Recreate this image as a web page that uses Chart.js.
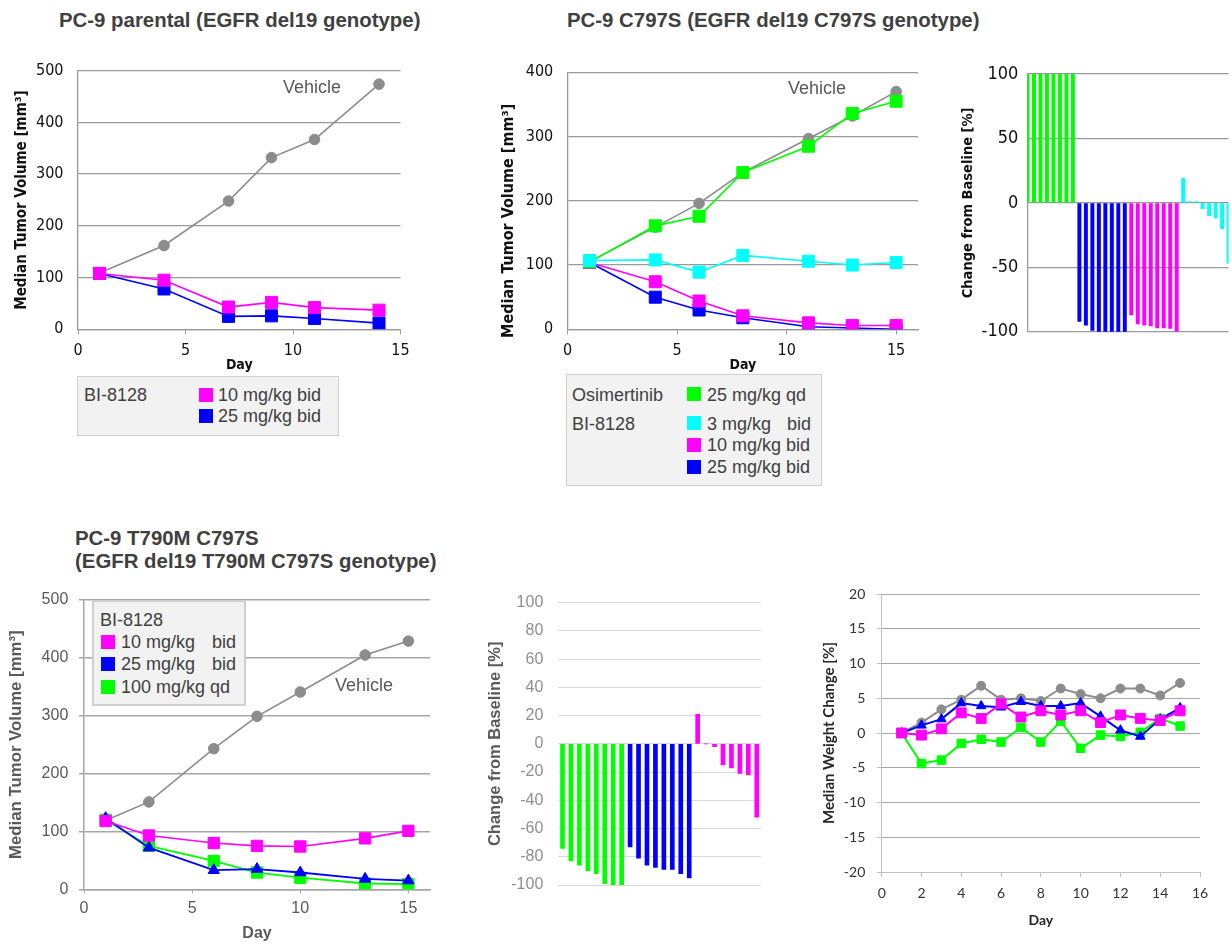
<!DOCTYPE html>
<html>
<head>
<meta charset="utf-8">
<script src="https://cdn.jsdelivr.net/npm/chart.js@4.4.1/dist/chart.umd.min.js"></script>
<style>
  html, body { margin: 0; padding: 0; background: #fff; }
  body { width: 1231px; height: 944px; position: relative; overflow: hidden; font-family: 'Liberation Sans', Arial, sans-serif; }
  .box { position: absolute; }
  .title { position: absolute; font-weight: bold; font-size: 20.4px; line-height: 23px; color: #404040; white-space: nowrap; }
  .legend { position: absolute; background: #f2f2f2; border: 1px solid #d0d0d0; box-sizing: border-box; }
  .txt { position: absolute; font-size: 18px; line-height: 20px; color: #404040; white-space: nowrap; }
  .sw { position: absolute; width: 14px; height: 14px; }
  .veh { position: absolute; font-size: 18px; line-height: 20px; color: #595959; white-space: nowrap; }
</style>
</head>
<body>

<div class="title" style="left:59px;top:9px">PC-9 parental (EGFR del19 genotype)</div>
<div class="title" style="left:567px;top:9px">PC-9 C797S (EGFR del19 C797S genotype)</div>
<div class="title" style="left:75px;top:527px">PC-9 T790M C797S<br>(EGFR del19 T790M C797S genotype)</div>

<div class="box" style="left:0;top:60px;width:410px;height:320px"><canvas id="chartA"></canvas></div>
<div class="box" style="left:490px;top:60px;width:440px;height:320px"><canvas id="chartB"></canvas></div>
<div class="box" style="left:940px;top:60px;width:291px;height:290px"><canvas id="chartC"></canvas></div>
<div class="box" style="left:0;top:590px;width:440px;height:354px"><canvas id="chartD"></canvas></div>
<div class="box" style="left:480px;top:590px;width:300px;height:310px"><canvas id="chartE"></canvas></div>
<div class="box" style="left:810px;top:580px;width:421px;height:355px"><canvas id="chartF"></canvas></div>

<div class="veh" style="left:283px;top:77px">Vehicle</div>
<div class="veh" style="left:788px;top:78px">Vehicle</div>

<!-- legend, top left -->
<div class="legend" style="left:77px;top:376px;width:262px;height:60px"></div>
<div class="txt" style="left:84px;top:385px">BI-8128</div>
<div class="sw" style="left:199px;top:388px;background:#ff00ff"></div>
<div class="txt" style="left:218px;top:385px">10 mg/kg bid</div>
<div class="sw" style="left:199px;top:409px;background:#0000ff"></div>
<div class="txt" style="left:218px;top:406px">25 mg/kg bid</div>

<!-- legend, top middle -->
<div class="legend" style="left:566px;top:374px;width:256px;height:112px"></div>
<div class="txt" style="left:572px;top:385px">Osimertinib</div>
<div class="sw" style="left:687px;top:387px;background:#00ff00"></div>
<div class="txt" style="left:707px;top:385px">25 mg/kg qd</div>
<div class="txt" style="left:572px;top:414px">BI-8128</div>
<div class="sw" style="left:687px;top:416px;background:#00ffff"></div>
<div class="txt" style="left:707px;top:414px">3 mg/kg</div>
<div class="txt" style="left:787px;top:414px">bid</div>
<div class="sw" style="left:687px;top:438px;background:#ff00ff"></div>
<div class="txt" style="left:707px;top:435px">10 mg/kg bid</div>
<div class="sw" style="left:687px;top:460px;background:#0000ff"></div>
<div class="txt" style="left:707px;top:457px">25 mg/kg bid</div>

<!-- legend, bottom left -->
<div class="legend" style="left:92px;top:600px;width:154px;height:106px;border:2px solid #cfcfcf"></div>
<div class="txt" style="left:100px;top:610px">BI-8128</div>
<div class="sw" style="left:101px;top:635px;background:#ff00ff"></div>
<div class="txt" style="left:121px;top:632px">10 mg/kg</div>
<div class="txt" style="left:212px;top:632px">bid</div>
<div class="sw" style="left:101px;top:657px;background:#0000ff"></div>
<div class="txt" style="left:121px;top:654px">25 mg/kg</div>
<div class="txt" style="left:212px;top:654px">bid</div>
<div class="sw" style="left:101px;top:680px;background:#00ff00"></div>
<div class="txt" style="left:121px;top:677px">100 mg/kg qd</div>
<div class="veh" style="left:335px;top:675px">Vehicle</div>

<script>
// PC-9 parental
const daysA = [1, 4, 7, 9, 11, 14];
const vehicleA = [109, 162, 248, 332, 367, 474];
const bi10A = [108, 95, 43, 52, 42, 37];
const bi25A = [108, 78, 25, 26, 21, 12];

// PC-9 C797S
const daysB = [1, 4, 6, 8, 11, 13, 15];
const vehicleB = [105, 159, 196, 244, 297, 332, 370];
const osiB = [105, 161, 176, 244, 285, 336, 355];
const bi3B = [107, 108, 89, 115, 106, 100, 104];
const bi10B = [104, 74, 44, 21, 10, 6, 6];
const bi25B = [104, 50, 30, 18, 4, 2, 0];

// PC-9 C797S waterfall (one bar per animal)
const osiC = [100, 100, 100, 100, 100, 100, 100, 100];
const bi25C = [-92, -95, -99, -100, -100, -100, -100, -100];
const bi10C = [-87, -94, -95, -95.5, -97, -97, -97.5, -100];
const bi3C = [19, 1, 1, -4.6, -10, -11.6, -20, -47];

// PC-9 T790M C797S
const daysD = [1, 3, 6, 8, 10, 13, 15];
const vehicleD = [119, 151, 243, 299, 341, 405, 429];
const bi10D = [118, 93, 80, 75, 74, 88, 101];
const bi25D = [123, 72, 33, 35, 29, 18, 15];
const bi100D = [120, 75, 49, 29, 20, 10, 9];

// PC-9 T790M C797S waterfall
const bi100E = [-74, -83, -86, -90, -92, -99, -100, -100];
const bi25E = [-73, -81, -86, -87.5, -89, -89, -92, -95];
const bi10E = [21, 0, -2, -15, -17, -21, -22, -52];

// body weight
const daysF = [1, 2, 3, 4, 5, 6, 7, 8, 9, 10, 11, 12, 13, 14, 15];
const vehicleF = [0, 1.5, 3.4, 4.8, 6.8, 4.8, 5.0, 4.6, 6.4, 5.6, 5.0, 6.4, 6.4, 5.4, 7.2];
const bi10F = [0, -0.3, 0.6, 2.9, 2.1, 4.2, 2.3, 3.2, 2.6, 3.2, 1.5, 2.6, 2.1, 1.8, 3.2];
const bi25F = [0, 1.1, 2.0, 4.3, 3.9, 3.7, 4.5, 3.9, 3.9, 4.3, 2.4, 0.4, -0.5, 2.0, 3.6];
const bi100F = [0, -4.4, -3.9, -1.5, -0.9, -1.3, 0.8, -1.3, 1.7, -2.2, -0.3, -0.5, 0.1, 2.1, 1.0];

const GRAY = "#8c8c8c";
const GREEN = "#00ff00";
const CYAN = "#00ffff";
const MAGENTA = "#ff00ff";
const BLUE = "#0000ff";

const VERDANA = "'DejaVu Sans Condensed', 'DejaVu Sans', sans-serif";
const ARIAL = "'Liberation Sans', Arial, sans-serif";
const CALIBRI = "Lato, 'Open Sans', sans-serif";

Chart.defaults.animation = false;
Chart.defaults.plugins.legend.display = false;
Chart.defaults.plugins.tooltip.enabled = false;
Chart.defaults.responsive = true;
Chart.defaults.maintainAspectRatio = false;

function series(days, values, color, style, radius, width) {
  return {
    data: days.map((d, i) => ({ x: d, y: values[i] })),
    borderColor: color,
    backgroundColor: color,
    pointBackgroundColor: color,
    pointBorderColor: color,
    pointBorderWidth: 1,
    pointStyle: style,
    pointRadius: radius,
    borderWidth: width,
    fill: false,
    tension: 0,
  };
}

// pin the axis boxes so the plot areas land where the original ones are
function fixY(w) {
  return sc => { sc.width = w; sc.paddingTop = 0; sc.paddingBottom = 0; };
}
function fixX(h) {
  return sc => { sc.height = h; sc.paddingLeft = 0; sc.paddingRight = 0; };
}

// one look per group of panels
function axes(s) {
  return {
    x: {
      type: "linear",
      min: 0,
      max: s.xMax,
      ticks: { stepSize: s.xStep, includeBounds: false, maxRotation: 0, font: { family: s.font, size: s.tickSize }, color: s.tickColor, padding: s.xPad },
      grid: { drawOnChartArea: false, tickLength: s.xTick, tickColor: s.axisColor },
      border: { color: s.axisColor, width: s.lineW },
      title: { display: true, text: "Day", color: s.titleColor, font: { family: s.font, size: s.daySize, weight: "bold" }, padding: { top: 0, bottom: s.dayPad } },
      afterFit: fixX(s.xHeight),
    },
    y: {
      min: s.yMin,
      max: s.yMax,
      ticks: { stepSize: s.yStep, font: { family: s.font, size: s.tickSize }, color: s.tickColor, padding: s.yPad },
      grid: { color: s.gridColor, lineWidth: s.lineW, drawTicks: s.yTick > 0, tickLength: s.yTick, tickColor: s.axisColor },
      border: { color: s.axisColor, width: s.lineW },
      title: { display: true, text: s.yTitle, color: s.titleColor, font: { family: s.font, size: s.yTitleSize, weight: "bold" }, padding: { top: s.yTitlePad, bottom: 0 } },
      afterFit: fixY(s.yWidth),
    },
  };
}

const officeLook = {
  font: VERDANA, tickSize: 16, tickColor: "#111", titleColor: "#111",
  axisColor: "#999", gridColor: "#999", lineW: 1.3,
  xStep: 5, xTick: 5, xPad: 6.5, xHeight: 50.7, daySize: 14, dayPad: 6,
  yMin: 0, yStep: 100, yTick: 0, yPad: 14.5, yTitleSize: 15, yTitle: "Median Tumor Volume [mm³]",
};

new Chart(document.getElementById("chartA"), {
  type: "line",
  data: {
    datasets: [
      series(daysA, bi10A, MAGENTA, "rect", 8.5, 1.6),
      series(daysA, bi25A, BLUE, "rect", 8.5, 1.6),
      series(daysA, vehicleA, GRAY, "circle", 5.3, 1.6),
    ],
  },
  options: {
    layout: { padding: { top: 10.7, right: 9, bottom: 0, left: 0 } },
    scales: axes({ ...officeLook, xMax: 15, yMax: 500, yWidth: 78, yTitlePad: 12.7 }),
  },
});

// in this panel the axis title sits lower than the plot centre: trailing spaces push it down
new Chart(document.getElementById("chartB"), {
  type: "line",
  data: {
    datasets: [
      series(daysB, bi3B, CYAN, "rect", 8.5, 1.6),
      series(daysB, osiB, GREEN, "rect", 8.5, 1.6),
      series(daysB, bi10B, MAGENTA, "rect", 8.5, 1.6),
      series(daysB, bi25B, BLUE, "rect", 8.5, 1.6),
      series(daysB, vehicleB, GRAY, "circle", 5.3, 1.6),
    ],
  },
  options: {
    layout: { padding: { top: 12.3, right: 12, bottom: 0, left: 0 } },
    scales: axes({
      ...officeLook, xMax: 16, yMax: 400, yWidth: 77.7,
      yTitleSize: 16, yTitlePad: 9, yTitle: "Median Tumor Volume [mm³]        ",
    }),
  },
});

function waterfall(id, groups, s) {
  const values = groups.flatMap(g => g.values);
  const colors = groups.flatMap(g => g.values.map(() => g.color));
  return new Chart(document.getElementById(id), {
    type: "bar",
    data: {
      labels: values.map((v, i) => String(i + 1)),
      datasets: [{ data: values, backgroundColor: colors, barThickness: s.barW }],
    },
    options: {
      layout: { padding: s.padding },
      scales: {
        x: { display: false, offset: s.offset },
        y: {
          min: -100,
          max: 100,
          ticks: { stepSize: s.yStep, font: { family: s.font, size: s.tickSize }, color: s.tickColor, padding: s.yPad },
          grid: { color: s.gridColor, lineWidth: s.lineW, drawTicks: false },
          border: { display: s.border, color: s.gridColor, width: s.lineW },
          title: { display: true, text: "Change from Baseline [%]", color: s.titleColor, font: { family: s.font, size: s.titleSize, weight: "bold" }, padding: { top: s.titlePad, bottom: 0 } },
          afterFit: fixY(s.yWidth),
        },
      },
    },
  });
}

waterfall("chartC", [
  { values: osiC, color: GREEN },
  { values: bi25C, color: BLUE },
  { values: bi10C, color: MAGENTA },
  { values: bi3C, color: CYAN },
], {
  barW: 3.3, offset: false, padding: { top: 14, right: 2.4, bottom: 18.3, left: 0 },
  yStep: 50, font: VERDANA, tickSize: 18, tickColor: "#111", yPad: 9.2,
  gridColor: "#999", lineW: 1.3, border: true,
  titleColor: "#111", titleSize: 14.5, titlePad: 19.3, yWidth: 87.5,
});

new Chart(document.getElementById("chartD"), {
  type: "line",
  data: {
    datasets: [
      series(daysD, bi10D, MAGENTA, "rect", 8, 1.6),
      series(daysD, bi25D, BLUE, "triangle", 6.5, 1.8),
      series(daysD, bi100D, GREEN, "rect", 8, 1.8),
      series(daysD, vehicleD, GRAY, "circle", 5.3, 1.6),
    ],
  },
  options: {
    layout: { padding: { top: 10, right: 10, bottom: 0, left: 0 } },
    scales: axes({
      font: ARIAL, tickSize: 16, tickColor: "#595959", titleColor: "#595959",
      axisColor: "#a6a6a6", gridColor: "#a6a6a6", lineW: 1.5,
      xMax: 16, xStep: 5, xTick: 4, xPad: 6, xHeight: 54.7, daySize: 16, dayPad: 0.4,
      yMin: 0, yMax: 500, yStep: 100, yTick: 5, yPad: 10.7, yWidth: 84,
      yTitleSize: 16.8, yTitle: "Median Tumor Volume [mm³]", yTitlePad: 6,
    }),
  },
});

waterfall("chartE", [
  { values: bi100E, color: GREEN },
  { values: bi25E, color: BLUE },
  { values: bi10E, color: MAGENTA },
], {
  barW: 4, offset: true, padding: { top: 12.7, right: 19, bottom: 15, left: 0 },
  yStep: 20, font: ARIAL, tickSize: 16, tickColor: "#8f8f8f", yPad: 15,
  gridColor: "#d9d9d9", lineW: 1, border: false,
  titleColor: "#595959", titleSize: 16.5, titlePad: 5.8, yWidth: 78.3,
});

new Chart(document.getElementById("chartF"), {
  type: "line",
  data: {
    datasets: [
      series(daysF, bi10F, MAGENTA, "rect", 7, 2),
      series(daysF, bi25F, BLUE, "triangle", 5.5, 2),
      series(daysF, bi100F, GREEN, "rect", 6, 2),
      series(daysF, vehicleF, GRAY, "circle", 4.5, 2),
    ],
  },
  options: {
    layout: { padding: { top: 14, right: 31, bottom: 0, left: 0 } },
    scales: axes({
      font: CALIBRI, tickSize: 14, tickColor: "#333", titleColor: "#262626",
      axisColor: "#bfbfbf", gridColor: "#a6a6a6", lineW: 1,
      xMax: 16, xStep: 2, xTick: 5, xPad: 7.9, xHeight: 63, daySize: 14, dayPad: 6.6,
      yMin: -20, yMax: 20, yStep: 5, yTick: 5, yPad: 11.4, yWidth: 71.7,
      yTitleSize: 15, yTitle: "Median Weight Change [%]", yTitlePad: 10,
    }),
  },
});
</script>
</body>
</html>
